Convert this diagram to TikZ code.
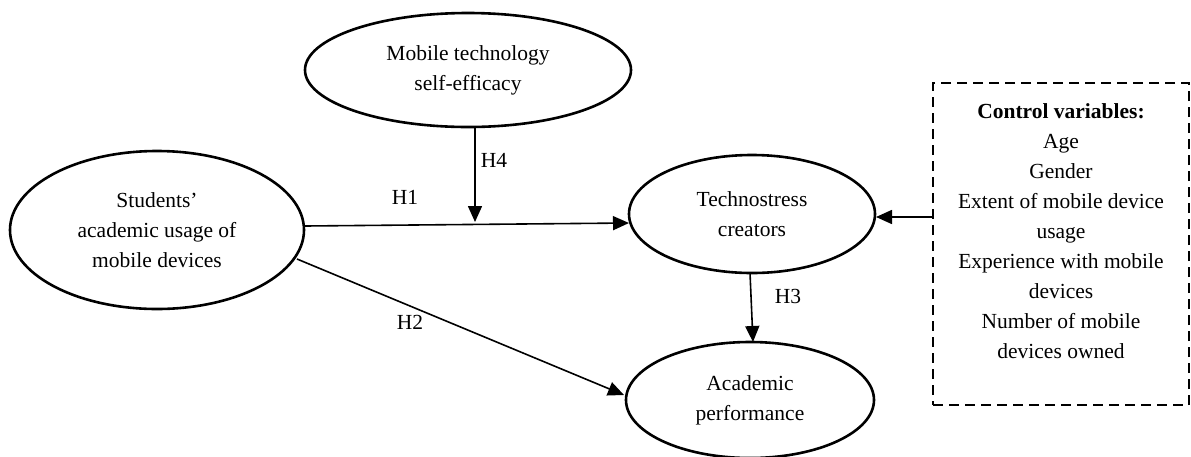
\documentclass[tikz,border=0pt]{standalone}
\usepackage{fontspec}
\setmainfont{Liberation Serif}
\usetikzlibrary{shapes.geometric,arrows.meta}
\begin{document}
\begin{tikzpicture}[x=1pt,y=-1pt,
  every node/.style={font=\fontsize{21.5}{30}\selectfont},
  oval/.style={ellipse,draw,line width=2.6pt,inner sep=0pt,align=center},
  link/.style={line width=1.6pt,-{Triangle[length=16pt,width=14pt]}},
  lbl/.style={inner sep=0pt}]
\useasboundingbox (0,0) rectangle (1191,456);
\node[oval,minimum width=326,minimum height=114] (mts) at (468,70) {Mobile technology\\self-efficacy};
\node[oval,minimum width=294,minimum height=158] (stu) at (157,230) {Students'\\academic usage of\\mobile devices};
\node[oval,minimum width=246,minimum height=118] (tech) at (752,214) {Technostress\\creators};
\node[oval,minimum width=248,minimum height=116] (acad) at (750,400) {Academic\\performance};
\node[draw,line width=2.6pt,dash pattern=on 10pt off 6pt,minimum width=256,minimum height=322,inner sep=0pt] (ctrl) at (1061,244) {};
\node[align=center,inner sep=0pt] (ctxt) at (1061,231) {\textbf{Control variables:}\\Age\\Gender\\Extent of mobile device\\usage\\Experience with mobile\\devices\\Number of mobile\\devices owned};
\coordinate (s1) at (305,226);
\coordinate (t1) at (629,223);
\coordinate (m0) at (475,127);
\coordinate (m1) at (475,222);
\coordinate (s2) at (297,259);
\coordinate (a2) at (624,395);
\coordinate (c1) at (933,217);
\coordinate (t2) at (876,217);
\coordinate (t3) at (750,273);
\coordinate (a3) at (753,342);
\draw[link] (s1) -- (t1);
\draw[link] (m0) -- (m1);
\draw[link] (s2) -- (a2);
\draw[link] (t3) -- (a3);
\draw[link] (c1) -- (t2);
\node[lbl] (h1) at (405,197) {H1};
\node[lbl] (h4) at (494,160) {H4};
\node[lbl] (h2) at (410,322) {H2};
\node[lbl] (h3) at (788,296) {H3};
\end{tikzpicture}
\end{document}
